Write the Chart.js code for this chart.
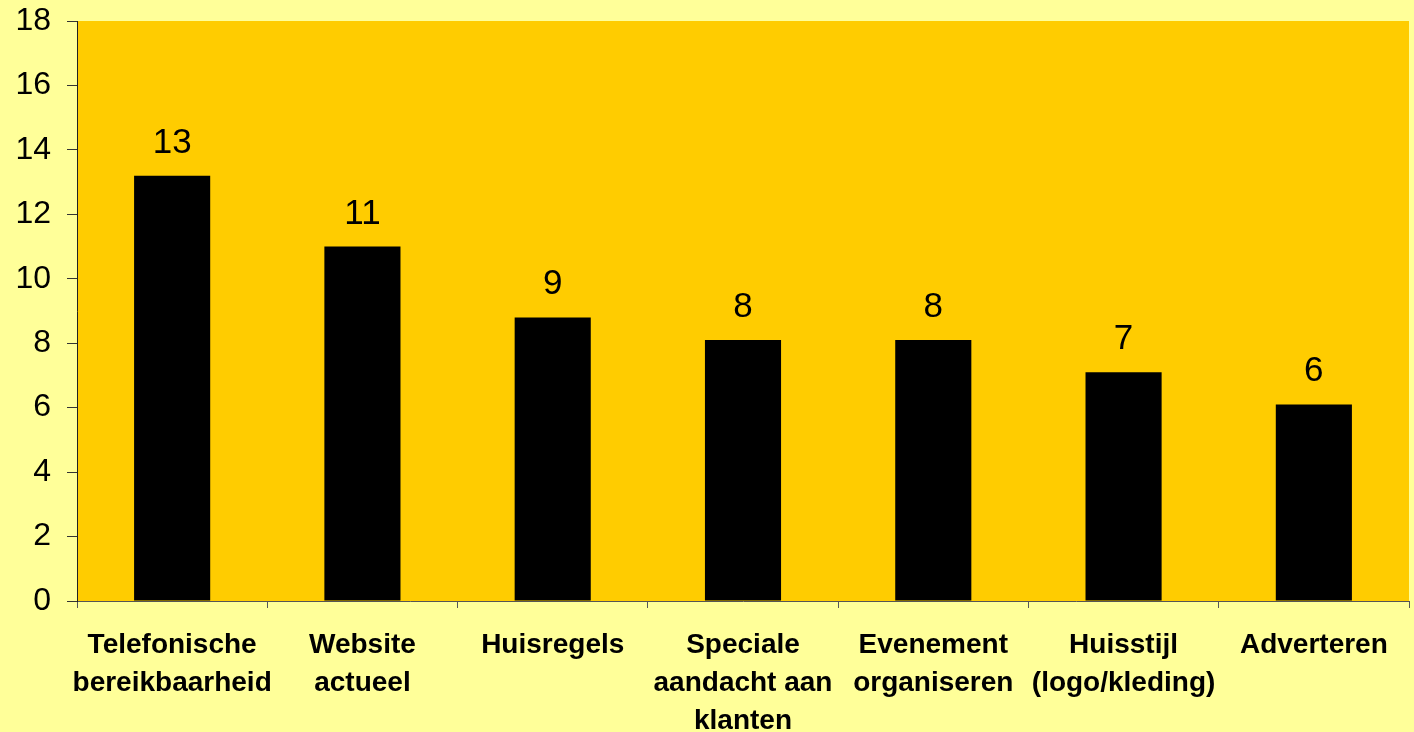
<!DOCTYPE html>
<html>
<head>
<meta charset="utf-8">
<script src="https://cdn.jsdelivr.net/npm/chart.js@4/dist/chart.umd.min.js"></script>
<style>
  html, body { margin: 0; padding: 0; background: #FFFF99; }
  #wrap { width: 1414px; height: 732px; }
</style>
</head>
<body>
<div id="wrap"><canvas id="bar_chart" width="1414" height="732"></canvas></div>
<script>
// categories (multi line labels)
var categories = [
    ["Telefonische", "bereikbaarheid"],
    ["Website", "actueel"],
    ["Huisregels"],
    ["Speciale", "aandacht aan", "klanten"],
    ["Evenement", "organiseren"],
    ["Huisstijl", "(logo/kleding)"],
    ["Adverteren"]
];
// bar heights
var counts = [13.2, 11.0, 8.8, 8.1, 8.1, 7.1, 6.1];
// labels printed above the bars
var countLabels = ["13", "11", "9", "8", "8", "7", "6"];
var yTicks = [0, 2, 4, 6, 8, 10, 12, 14, 16, 18];

// plot area background
var plotBg = {
    id: 'plotBg',
    beforeDraw: function (chart) {
        var c = chart.ctx, a = chart.chartArea;
        c.save();
        c.fillStyle = '#FFCC00';
        c.fillRect(a.left, a.top, a.right - a.left, a.bottom - a.top);
        c.restore();
    }
};

// value labels above bars
var barLabels = {
    id: 'barLabels',
    afterDatasetsDraw: function (chart) {
        var c = chart.ctx;
        var meta = chart.getDatasetMeta(0);
        c.save();
        c.font = '35px "Liberation Sans", Arial, sans-serif';
        c.fillStyle = '#000';
        c.textAlign = 'center';
        c.textBaseline = 'alphabetic';
        meta.data.forEach(function (bar, i) {
            c.fillText(countLabels[i], bar.x, bar.y - 23);
        });
        c.restore();
    }
};

var ctx = document.getElementById("bar_chart");
var myChart = new Chart(ctx, {
    type: 'bar',
    data: {
        labels: categories,
        datasets: [{
            data: counts,
            backgroundColor: '#000000',
            barPercentage: 0.4,
            categoryPercentage: 1.0
        }]
    },
    options: {
        responsive: false,
        animation: false,
        layout: { padding: { top: 21, right: 5, left: 0, bottom: 0 } },
        plugins: {
            legend: { display: false },
            tooltip: { enabled: false }
        },
        scales: {
            x: {
                grid: {
                    offset: true,
                    drawOnChartArea: false,
                    tickLength: 7,
                    color: '#555555'
                },
                border: { color: '#555555', width: 1 },
                ticks: {
                    color: '#000',
                    maxRotation: 0,
                    autoSkip: false,
                    padding: 18,
                    font: { family: '"Liberation Sans", Arial, sans-serif', size: 28, weight: 'bold', lineHeight: 1.36 }
                },
                afterFit: function (scale) {
                    scale.height = 131;
                    scale.paddingLeft = 0;
                    scale.paddingRight = 0;
                }
            },
            y: {
                min: 0,
                max: 18,
                afterBuildTicks: function (scale) {
                    scale.ticks = yTicks.map(function (v) { return { value: v }; });
                },
                grid: {
                    drawOnChartArea: false,
                    tickLength: 10,
                    color: '#333333'
                },
                border: { color: '#222222', width: 1 },
                ticks: {
                    color: '#000',
                    padding: 16,
                    font: { family: '"Liberation Sans", Arial, sans-serif', size: 32 }
                },
                afterFit: function (scale) {
                    scale.width = 77;
                    scale.paddingTop = 0;
                    scale.paddingBottom = 0;
                }
            }
        }
    },
    plugins: [plotBg, barLabels]
});
</script>
</body>
</html>
